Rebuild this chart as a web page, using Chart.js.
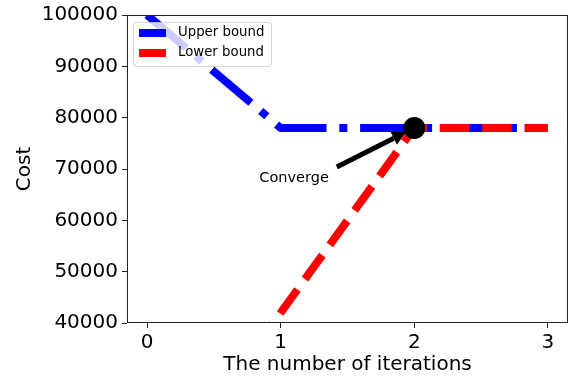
<!DOCTYPE html>
<html lang="en">
<head>
<meta charset="UTF-8">
<title>Upper and lower bound</title>
<script src="https://cdn.jsdelivr.net/npm/chart.js"></script>
<style>
  body { margin: 0; background: #fff; }
  #chart { display: block; }
</style>
</head>
<body>
<canvas id="chart" width="575" height="377"></canvas>
<script>
// iterations on x, cost on y
const iterations = [0, 1, 2, 3];
const upperBound = [100000, 78000, 78000, 78000];
const lowerBound = [6000, 42000, 78000, 78000];
const xTicks = [0, 1, 2, 3];
const yTicks = [40000, 50000, 60000, 70000, 80000, 90000, 100000];
const convergePoint = {x: 2, y: 78000};
const convergeLabel = 'Converge';
const convergeTextAt = {x: 0.84, y: 67500};
const arrowTail = {x: 1.42, y: 70400};

const FONT = "'DejaVu Sans', sans-serif";
const toXY = (ys) => iterations.map((x, i) => ({x: x, y: ys[i]}));

// legend, frame and annotation go above the lines (like matplotlib)
const overlayPlugin = {
    id: 'overlay',
    afterDatasetsDraw(chart) {
        const ctx = chart.ctx;
        const {left, right, top, bottom} = chart.chartArea;
        const xs = chart.scales.x, ys = chart.scales.y;
        ctx.save();

        // frame
        ctx.strokeStyle = '#222';
        ctx.lineWidth = 1;
        ctx.strokeRect(left + 0.5, top + 0.5, right - left - 1, bottom - top - 1);

        // arrow to the converge point
        const tx = xs.getPixelForValue(arrowTail.x), ty = ys.getPixelForValue(arrowTail.y);
        const px = xs.getPixelForValue(convergePoint.x), py = ys.getPixelForValue(convergePoint.y);
        const len = Math.hypot(px - tx, py - ty);
        const ux = (px - tx) / len, uy = (py - ty) / len;
        const hx = px - ux * 9, hy = py - uy * 9;
        const headLen = 14, headW = 7;
        const bx = hx - ux * headLen, by = hy - uy * headLen;
        ctx.strokeStyle = '#000';
        ctx.fillStyle = '#000';
        ctx.lineWidth = 5;
        ctx.beginPath();
        ctx.moveTo(tx, ty);
        ctx.lineTo(bx, by);
        ctx.stroke();
        ctx.beginPath();
        ctx.moveTo(hx, hy);
        ctx.lineTo(bx - uy * headW, by + ux * headW);
        ctx.lineTo(bx + uy * headW, by - ux * headW);
        ctx.closePath();
        ctx.fill();

        ctx.font = '14.5px ' + FONT;
        ctx.textAlign = 'left';
        ctx.textBaseline = 'alphabetic';
        ctx.fillText(convergeLabel, xs.getPixelForValue(convergeTextAt.x), ys.getPixelForValue(convergeTextAt.y));

        // legend box
        const lx = left + 6, ly = top + 7, lw = 138, lh = 44, r = 3;
        ctx.beginPath();
        ctx.roundRect(lx + 0.5, ly + 0.5, lw, lh, r);
        ctx.fillStyle = 'rgba(255,255,255,0.8)';
        ctx.fill();
        ctx.strokeStyle = 'rgba(204,204,204,0.8)';
        ctx.lineWidth = 1;
        ctx.stroke();

        ctx.font = '13.3px ' + FONT;
        ctx.textBaseline = 'middle';
        chart.data.datasets.slice(0, 2).forEach((ds, i) => {
            const yy = ly + 11 + i * 20;
            ctx.strokeStyle = ds.borderColor;
            ctx.lineWidth = 8;
            ctx.beginPath();
            ctx.moveTo(lx + 6, yy);
            ctx.lineTo(lx + 33, yy);
            ctx.stroke();
            ctx.fillStyle = '#000';
            ctx.fillText(ds.label, lx + 45, yy);
        });
        ctx.restore();
    }
};

new Chart(document.getElementById('chart'), {
    type: 'line',
    data: {
        datasets: [
            {
                label: 'Upper bound',
                data: toXY(upperBound),
                borderColor: '#0000ff',
                borderWidth: 8,
                borderDash: [51.2, 12.8, 8, 12.8],
                borderCapStyle: 'butt',
                borderJoinStyle: 'round',
                pointRadius: 0,
                tension: 0,
                order: 3
            },
            {
                label: 'Lower bound',
                data: toXY(lowerBound),
                borderColor: '#ff0000',
                borderWidth: 8,
                borderDash: [29.6, 12.8],
                borderDashOffset: 27.3,
                borderCapStyle: 'butt',
                borderJoinStyle: 'round',
                pointRadius: 0,
                tension: 0,
                order: 2
            },
            {
                label: 'Converge',
                data: [convergePoint],
                showLine: false,
                pointRadius: 11,
                pointBackgroundColor: '#000',
                pointBorderWidth: 0,
                order: 1
            }
        ]
    },
    options: {
        responsive: false,
        animation: false,
        layout: { autoPadding: false, padding: { top: 15, right: 7, left: 0, bottom: 0 } },
        plugins: {
            legend: { display: false },
            tooltip: { enabled: false }
        },
        scales: {
            x: {
                type: 'linear',
                min: -0.15,
                max: 3.15,
                afterBuildTicks: s => { s.ticks = xTicks.map(v => ({value: v})); },
                afterFit: s => { s.height = 54; s.paddingLeft = 0; s.paddingRight = 0; },
                grid: { drawOnChartArea: false, drawTicks: true, tickLength: 5, color: '#222' },
                border: { display: false },
                ticks: { font: { family: FONT, size: 20 }, color: '#000', padding: 3, maxRotation: 0, callback: v => String(v) },
                title: { display: true, text: 'The number of iterations', font: { family: FONT, size: 20 }, color: '#000', padding: 0 }
            },
            y: {
                min: 40000,
                max: 100000,
                afterBuildTicks: s => { s.ticks = yTicks.map(v => ({value: v})); },
                afterFit: s => { s.width = 127; s.paddingTop = 0; s.paddingBottom = 0; },
                grid: { drawOnChartArea: false, drawTicks: true, tickLength: 5, color: '#222' },
                border: { display: false },
                ticks: { font: { family: FONT, size: 20 }, color: '#000', padding: 4, callback: v => String(v) },
                title: { display: true, text: 'Cost', font: { family: FONT, size: 20 }, color: '#000', padding: { top: 13, bottom: 0 } }
            }
        }
    },
    plugins: [overlayPlugin]
});
</script>
</body>
</html>
